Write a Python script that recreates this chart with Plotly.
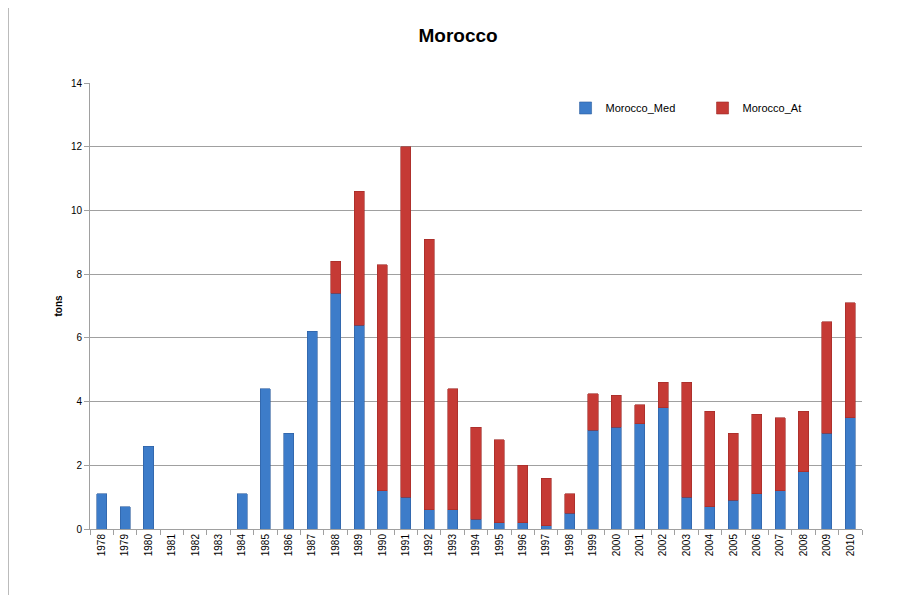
import plotly.graph_objects as go

years = [str(y) for y in range(1978, 2011)]
med = [1.1, 0.7, 2.6, 0, 0, 0, 1.1, 4.4, 3.0, 6.2, 7.4, 6.4, 1.2, 1.0, 0.6, 0.6, 0.3,
       0.2, 0.2, 0.1, 0.5, 3.1, 3.2, 3.3, 3.8, 1.0, 0.7, 0.9, 1.1, 1.2, 1.8, 3.0, 3.5]
at = [0, 0, 0, 0, 0, 0, 0, 0, 0, 0, 1.0, 4.2, 7.1, 11.0, 8.5, 3.8, 2.9,
      2.6, 1.8, 1.5, 0.6, 1.15, 1.0, 0.6, 0.8, 3.6, 3.0, 2.1, 2.5, 2.3, 1.9, 3.5, 3.6]

med_plot = [v if v > 0 else None for v in med]
at_plot = [v if v > 0 else None for v in at]

font = "Liberation Sans"
fig = go.Figure()
fig.add_trace(go.Bar(x=years, y=med_plot, name="Morocco_Med",
                     marker=dict(color="#3D7CC9", line=dict(color="#2D5E9E", width=0.6))))
fig.add_trace(go.Bar(x=years, y=at_plot, name="Morocco_At",
                     marker=dict(color="#C53A35", line=dict(color="#9E2A26", width=0.6))))

fig.update_layout(
    barmode="stack", bargap=0.57,
    width=902, height=595,
    margin=dict(l=82, r=48, t=75, b=74, autoexpand=False),
    paper_bgcolor="white", plot_bgcolor="white",
    title=dict(text="<b>Morocco</b>", x=0.499, xanchor="center", y=0.954, yanchor="middle",
               font=dict(family=font, size=19, color="black")),
    font=dict(family=font, size=10, color="black"),
    legend=dict(orientation="h", x=0.616, y=0.944, xanchor="left", yanchor="middle",
                bgcolor="rgba(0,0,0,0)", font=dict(size=11), entrywidth=92,
                itemwidth=30, traceorder="normal"),
    showlegend=True,
    shapes=[dict(type="line", xref="paper", yref="paper", x0=-81.5 / 772, x1=-81.5 / 772,
                 y0=-0.3, y1=1.3, line=dict(color="#BBBBBB", width=1))],
)
fig.update_yaxes(range=[0, 14], dtick=2, showgrid=True, gridcolor="#A0A0A0", gridwidth=1,
                 showline=True, linecolor="#A0A0A0", ticks="outside", ticklen=5,
                 tickcolor="#A0A0A0", tickfont=dict(size=10), automargin=False,
                 title=dict(text="<b>tons</b>", font=dict(size=10), standoff=6),
                 zeroline=False)
fig.update_xaxes(type="category", tickangle=-90, showline=True, linecolor="#A0A0A0",
                 ticks="outside", ticklen=5, tickcolor="#A0A0A0", tickson="boundaries",
                 tickfont=dict(size=10), showgrid=False, automargin=False)

fig.write_html("out.html")
